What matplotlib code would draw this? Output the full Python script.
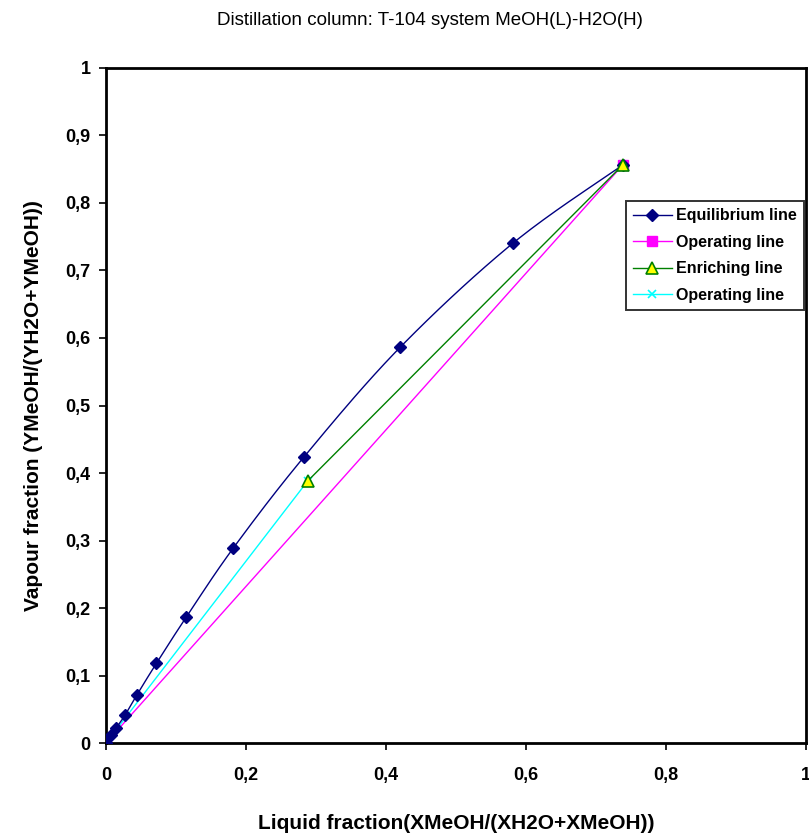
import numpy as np
import matplotlib
matplotlib.use("Agg")
import matplotlib.pyplot as plt
from matplotlib.ticker import FuncFormatter

plt.rcParams['font.family'] = ['Liberation Sans', 'DejaVu Sans']

# McCabe-Thiele data, MeOH / H2O
eq_x = [0.0, 0.007, 0.015, 0.027, 0.044, 0.072, 0.115, 0.182, 0.283, 0.420, 0.582, 0.738]
eq_y = [0.0, 0.012, 0.023, 0.041, 0.071, 0.118, 0.187, 0.289, 0.424, 0.586, 0.741, 0.856]

op_x = [0.0, 0.738]
op_y = [0.0, 0.856]

enr_x = [0.288, 0.738]
enr_y = [0.388, 0.856]

strip_x = [0.0, 0.288]
strip_y = [0.0, 0.388]


def smooth(xs, ys, n=20):
    """Catmull-Rom curve through the given points."""
    p = np.column_stack([xs, ys]).astype(float)
    p = np.vstack([p[0], p, p[-1]])
    out = []
    t = np.linspace(0, 1, n, endpoint=False)[:, None]
    for i in range(1, len(p) - 2):
        p0, p1, p2, p3 = p[i - 1], p[i], p[i + 1], p[i + 2]
        seg = 0.5 * ((2 * p1) + (-p0 + p2) * t + (2 * p0 - 5 * p1 + 4 * p2 - p3) * t ** 2
                     + (-p0 + 3 * p1 - 3 * p2 + p3) * t ** 3)
        out.append(seg)
    out.append(p[-2][None, :])
    c = np.vstack(out)
    return c[:, 0], c[:, 1]


fig = plt.figure(figsize=(8.09, 8.36), dpi=100)
ax = fig.add_axes([0.131, 0.1112, 0.8653, 0.8075])

sx, sy = smooth(eq_x, eq_y)
ax.plot(sx, sy, color='#000080', lw=1.0, zorder=3)
ax.plot(eq_x, eq_y, ls='none', marker='D', ms=6.5, color='#000080', zorder=4)
ax.plot([], [], color='#000080', lw=1.0, marker='D', ms=6.5, label='Equilibrium line')

ax.plot(op_x, op_y, color='#FF00FF', lw=1.0, marker='s', ms=6.5, label='Operating line', zorder=2)
ax.plot(enr_x, enr_y, color='#008000', lw=1.0, marker='^', ms=8, mfc='#FFFF00',
        mec='#008000', mew=1.2, label='Enriching line', zorder=5)
ax.plot(strip_x, strip_y, color='#00FFFF', lw=1.0, marker='x', ms=5.5, mew=1.2,
        label='Operating line', zorder=2)

ax.set_xlim(0, 1)
ax.set_ylim(0, 1)
ax.set_xticks(np.arange(0, 1.01, 0.2))
ax.set_yticks(np.arange(0, 1.01, 0.1))

fmt = FuncFormatter(lambda v, _: ('%g' % round(v, 2)).replace('.', ','))
ax.xaxis.set_major_formatter(fmt)
ax.yaxis.set_major_formatter(fmt)

for s in ax.spines.values():
    s.set_linewidth(2.0)
    s.set_color('black')
ax.tick_params(direction='out', length=5, width=1.2, labelsize=13, pad=6)
for lab in ax.get_xticklabels() + ax.get_yticklabels():
    lab.set_fontweight('bold')
ax.tick_params(axis='x', pad=12)

ax.set_xlabel('Liquid fraction(XMeOH/(XH2O+XMeOH))', fontsize=15, fontweight='bold', labelpad=22)
ax.set_ylabel('Vapour fraction (YMeOH/(YH2O+YMeOH))', fontsize=15, fontweight='bold', labelpad=16)
fig.text(0.532, 0.975, 'Distillation column: T-104 system MeOH(L)-H2O(H)', ha='center', va='center',
         fontsize=13.5)

leg = ax.legend(loc='upper left', bbox_to_anchor=(0.743, 0.803), frameon=True, fancybox=False,
                edgecolor='black', prop={'weight': 'bold', 'size': 11.5},
                handlelength=2.4, borderpad=0.45, labelspacing=0.72, handletextpad=0.25,
                borderaxespad=0)
leg.get_frame().set_linewidth(1.4)

fig.savefig('out.png', dpi=100)
